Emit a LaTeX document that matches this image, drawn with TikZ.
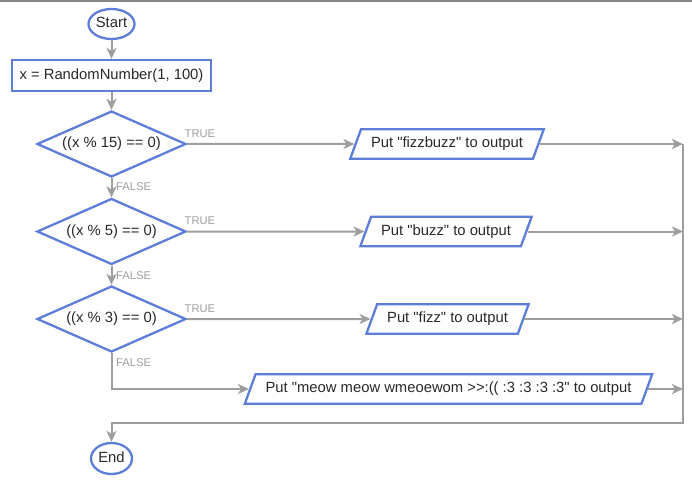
\documentclass[tikz,border=0pt]{standalone}
\usepackage{fontspec}
\setmainfont{Liberation Sans}[Ligatures=TeXOff]
\usepackage{xcolor}
\usetikzlibrary{positioning,shapes.geometric,arrows.meta}
\definecolor{nodeblue}{RGB}{93,126,216}
\definecolor{flowgray}{RGB}{158,158,158}
\definecolor{textdark}{RGB}{40,40,40}
\tikzset{
  terminal/.style={ellipse,draw=nodeblue,line width=2.3pt,inner sep=0pt,text=textdark},
  procbox/.style={rectangle,draw=nodeblue,line width=2.3pt,minimum height=31pt,inner xsep=7.5pt,text=textdark},
  decision/.style={diamond,aspect=2.2,draw=nodeblue,line width=2.3pt,inner sep=0pt,minimum width=149pt,minimum height=66pt,text=textdark},
  iobox/.style={trapezium,trapezium left angle=70,trapezium right angle=110,draw=nodeblue,line width=2.3pt,inner xsep=10pt,inner ysep=7.5pt,text=textdark},
  flow/.style={draw=flowgray,line width=2pt,-{Stealth[length=11pt,width=10pt,inset=3pt]}},
  lbl/.style={text=flowgray,font=\fontsize{11.2}{13}\selectfont,inner sep=0pt,anchor=west}
}

\begin{document}
\begin{tikzpicture}[x=1pt,y=-1pt,font=\fontsize{14.8}{17.8}\selectfont,
    every node/.append style={text height=11pt,text depth=3.5pt}]
    \useasboundingbox (0,0) rectangle (692,481);
    % frame edge
    \draw[flowgray!85!black,line width=1.3pt] (0,1) -- (692,1);

    % main column
    \node[terminal,minimum width=46pt,minimum height=30pt] (start) at (111.5,24) {Start};
    \node[procbox] (init) at (111.5,75.5) {x = RandomNumber(1, 100)};
    \node[decision] (d15) at (111.5,144) {((x \% 15) == 0)};
    \node[decision] (d5) at (111.5,231.5) {((x \% 5) == 0)};
    \node[decision] (d3) at (111.5,319) {((x \% 3) == 0)};
    \node[terminal,minimum width=41pt,minimum height=31pt] (stop) at (111.5,458.5) {End};

    % outputs
    \node[iobox] (outfb) at (447,144) {Put "fizzbuzz" to output};
    \node[iobox] (outb) at (446,231.5) {Put "buzz" to output};
    \node[iobox] (outf) at (447.5,319) {Put "fizz" to output};
    \node[iobox] (outm) at (448.5,389) {Put "meow meow wmeoewom >>:(( :3 :3 :3 :3" to output};

    \coordinate (rail) at (683,0);
    \coordinate (joint) at (683,423);

    % connectors
    \draw[flow] (start) -- (init);
    \draw[flow] (init) -- (d15);
    \draw[flow] (d15) -- (d5);
    \draw[flow] (d5) -- (d3);
    \draw[flow] (d15.east) -- (outfb.west);
    \draw[flow] (d5.east) -- (outb.west);
    \draw[flow] (d3.east) -- (outf.west);
    \draw[flow] (d3.south) |- (outm.west);
    \draw[flow] (outfb.east) -- (outfb.east -| rail);
    \draw[flow] (outb.east) -- (outb.east -| rail);
    \draw[flow] (outf.east) -- (outf.east -| rail);
    \draw[flow] (outm.east) -- (outm.east -| rail);
    \draw[flow] (outfb.east -| rail) -- (joint) -| (stop.north);

    % branch labels
    \node[lbl] (t15) at (184.5,134) {TRUE};
    \node[lbl] (t5) at (184.5,221) {TRUE};
    \node[lbl] (t3) at (184.5,309) {TRUE};
    \node[lbl] (f15) at (116,187) {FALSE};
    \node[lbl] (f5) at (116,276) {FALSE};
    \node[lbl] (f3) at (116,363) {FALSE};
\end{tikzpicture}
\end{document}
